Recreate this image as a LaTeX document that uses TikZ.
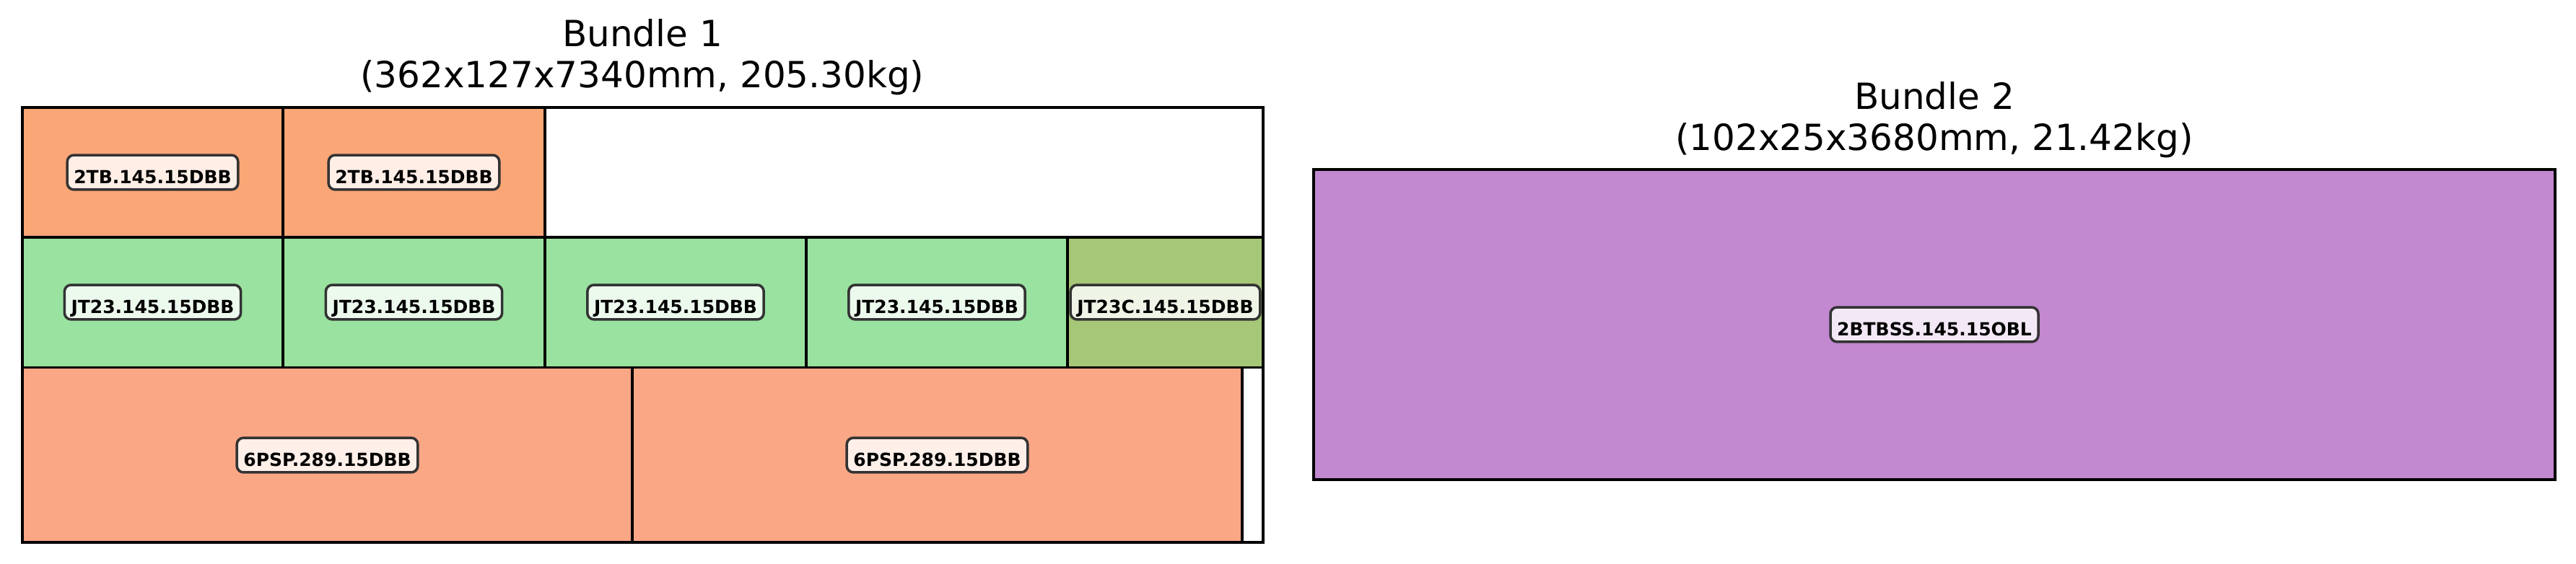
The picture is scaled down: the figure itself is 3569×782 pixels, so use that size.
\documentclass[tikz,border=0pt]{standalone}
\usepackage{fontspec}
\setmainfont{DejaVu Sans}
\usepackage{tikz}
\usetikzlibrary{positioning}
\definecolor{tborange}{HTML}{FBA677}
\definecolor{pspsalmon}{HTML}{FAA786}
\definecolor{jtgreen}{HTML}{99E2A0}
\definecolor{jtcolive}{HTML}{A6C777}
\definecolor{bsspurple}{HTML}{C288D0}
\tikzset{
  bundle/.style={draw=black, line width=0.8pt, fill=white},
  piece/.style={draw=black, line width=0.8pt},
  tag/.style={draw=black!80, line width=0.85pt, rounded corners=2.2pt, fill=white, fill opacity=0.82,
              text opacity=1, font=\fontsize{6}{7}\selectfont\bfseries, inner xsep=2.2pt, inner ysep=2.1pt,
              text height=0.73em, text depth=0pt},
  title/.style={align=center, font=\fontsize{12}{13.7}\selectfont},
}
\begin{document}
\begin{tikzpicture}[x=0.24pt, y=-0.24pt]
        \useasboundingbox (0,0) rectangle (3569,782);
        % bundle 1
        \node[title] (t1) at (890,79) {Bundle 1\\(362x127x7340mm, 205.30kg)};
        \draw[bundle] (31,149) rectangle (1750,752);
        \draw[piece, fill=tborange] (31,149) rectangle (392,329);
        \draw[piece, fill=tborange] (392,149) rectangle (755,329);
        \draw[piece, fill=jtgreen] (31,329) rectangle (392,509.5);
        \draw[piece, fill=jtgreen] (392,329) rectangle (755,509.5);
        \draw[piece, fill=jtgreen] (755,329) rectangle (1117,509.5);
        \draw[piece, fill=jtgreen] (1117,329) rectangle (1479,509.5);
        \draw[piece, fill=jtcolive] (1479,329) rectangle (1750,509.5);
        \draw[piece, fill=pspsalmon] (31,509.5) rectangle (876,752);
        \draw[piece, fill=pspsalmon] (876,509.5) rectangle (1721,752);
        \node[tag] (tb1) at (211.5,239) {2TB.145.15DBB};
        \node[tag] (tb2) at (573.5,239) {2TB.145.15DBB};
        \node[tag] (jt1) at (211.5,419) {JT23.145.15DBB};
        \node[tag] (jt2) at (573.5,419) {JT23.145.15DBB};
        \node[tag] (jt3) at (936,419) {JT23.145.15DBB};
        \node[tag] (jt4) at (1298,419) {JT23.145.15DBB};
        \node[tag] (jtc) at (1614.5,419) {JT23C.145.15DBB};
        \node[tag] (psp1) at (453.5,631) {6PSP.289.15DBB};
        \node[tag] (psp2) at (1298.5,631) {6PSP.289.15DBB};
        % bundle 2
        \node[title] (t2) at (2680,166) {Bundle 2\\(102x25x3680mm, 21.42kg)};
        \draw[bundle] (1820,235) rectangle (3540,665);
        \draw[piece, fill=bsspurple] (1820,235) rectangle (3540,665);
        \node[tag] (bss) at (2680,450) {2BTBSS.145.15OBL};
      \end{tikzpicture}
\end{document}
